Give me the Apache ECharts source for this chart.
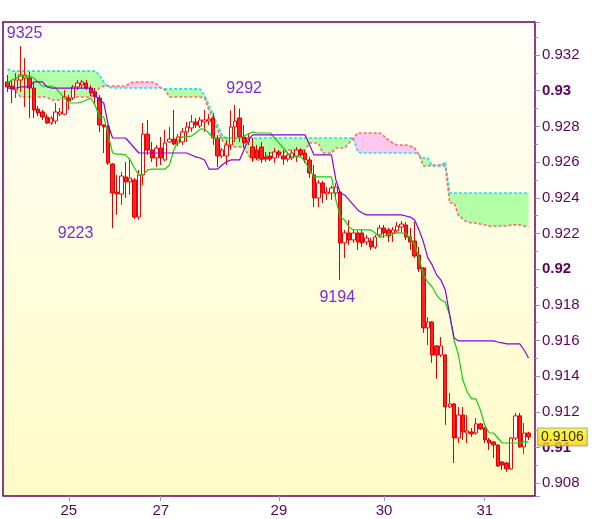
<!DOCTYPE html>
<html>
<head>
<meta charset="utf-8">
<script src="https://cdn.jsdelivr.net/npm/echarts@6/dist/echarts.min.js"></script>
<style>html,body{margin:0;padding:0;background:#fff;}#c{width:600px;height:519px;}</style>
</head>
<body>
<div id="c"></div>
<script>
// ---- data (hourly candles) ----
const opens = [0.93049,0.93026,0.93004,0.93060,0.93071,0.93071,0.93015,0.92897,0.92881,0.92853,
0.92819,0.92830,0.92869,0.92869,0.92959,0.92959,0.93021,0.93032,0.93043,0.93015,
0.92993,0.92959,0.92808,0.92797,0.92589,0.92432,0.92421,0.92517,0.92489,0.92500,
0.92292,0.92528,0.92757,0.92668,0.92623,0.92679,0.92612,0.92713,0.92729,0.92707,
0.92713,0.92769,0.92791,0.92825,0.92802,0.92825,0.92830,0.92847,0.92735,0.92634,
0.92634,0.92696,0.92797,0.92847,0.92741,0.92713,0.92685,0.92668,0.92685,0.92629,
0.92634,0.92623,0.92657,0.92634,0.92617,0.92623,0.92634,0.92668,0.92651,0.92612,
0.92528,0.92399,0.92483,0.92421,0.92427,0.92427,0.92432,0.92147,0.92203,0.92164,
0.92203,0.92203,0.92152,0.92158,0.92124,0.92192,0.92231,0.92220,0.92203,0.92214,
0.92236,0.92248,0.92180,0.92158,0.92080,0.92007,0.91671,0.91704,0.91570,0.91519,
0.91519,0.91228,0.91245,0.91054,0.91183,0.91082,0.91088,0.91082,0.91133,0.91110,
0.91043,0.91032,0.91015,0.90920,0.90914,0.90881,0.91054,0.91178,0.91004,0.91082];
const closes = [0.93021,0.93010,0.93060,0.93088,0.93088,0.93015,0.92892,0.92875,0.92853,0.92819,
0.92847,0.92881,0.92881,0.92965,0.92942,0.93021,0.93043,0.93049,0.93015,0.92987,
0.92965,0.92808,0.92797,0.92595,0.92427,0.92421,0.92522,0.92489,0.92511,0.92292,
0.92528,0.92757,0.92668,0.92623,0.92679,0.92623,0.92707,0.92729,0.92701,0.92741,
0.92769,0.92797,0.92825,0.92808,0.92836,0.92836,0.92841,0.92735,0.92634,0.92668,
0.92696,0.92797,0.92830,0.92741,0.92707,0.92735,0.92623,0.92623,0.92617,0.92617,
0.92617,0.92657,0.92640,0.92617,0.92640,0.92651,0.92668,0.92640,0.92612,0.92539,
0.92399,0.92483,0.92427,0.92432,0.92455,0.92461,0.92147,0.92203,0.92164,0.92203,
0.92152,0.92147,0.92175,0.92124,0.92180,0.92231,0.92203,0.92186,0.92220,0.92242,
0.92253,0.92180,0.92152,0.92074,0.92001,0.91671,0.91704,0.91519,0.91519,0.91570,
0.91228,0.91245,0.91054,0.91183,0.91088,0.91094,0.91077,0.91133,0.91105,0.91043,
0.91026,0.91015,0.90897,0.90903,0.90881,0.91054,0.91178,0.91004,0.91082,0.91060];
const lows = [0.92993,0.92931,0.92959,0.92993,0.92909,0.92847,0.92847,0.92858,0.92836,0.92813,
0.92808,0.92813,0.92858,0.92864,0.92892,0.92948,0.93004,0.93015,0.93004,0.92970,
0.92920,0.92769,0.92651,0.92584,0.92230,0.92304,0.92360,0.92399,0.92416,0.92281,
0.92276,0.92472,0.92640,0.92601,0.92573,0.92584,0.92605,0.92707,0.92696,0.92690,
0.92696,0.92713,0.92769,0.92791,0.92791,0.92769,0.92808,0.92696,0.92573,0.92623,
0.92584,0.92668,0.92713,0.92713,0.92679,0.92696,0.92601,0.92612,0.92595,0.92601,
0.92606,0.92595,0.92623,0.92584,0.92601,0.92612,0.92601,0.92629,0.92595,0.92511,
0.92348,0.92348,0.92371,0.92388,0.92388,0.92388,0.91940,0.92063,0.92136,0.92147,
0.92108,0.92124,0.92136,0.92108,0.92113,0.92175,0.92175,0.92152,0.92152,0.92203,
0.92208,0.92164,0.92108,0.92063,0.91984,0.91643,0.91575,0.91475,0.91385,0.91508,
0.91127,0.91223,0.90914,0.91026,0.91043,0.91026,0.91060,0.91071,0.91099,0.91026,
0.90987,0.90942,0.90892,0.90875,0.90864,0.90875,0.91043,0.91000,0.90965,0.91043];
const highs = [0.93088,0.93060,0.93099,0.93250,0.93183,0.93105,0.93043,0.92914,0.92892,0.92869,
0.92858,0.92931,0.92903,0.93004,0.92976,0.93032,0.93060,0.93060,0.93060,0.93032,
0.93015,0.92976,0.92813,0.92808,0.92595,0.92528,0.92545,0.92601,0.92623,0.92511,
0.92556,0.92819,0.92836,0.92713,0.92696,0.92741,0.92780,0.92797,0.92892,0.92757,
0.92791,0.92825,0.92864,0.92847,0.92853,0.92892,0.92869,0.92875,0.92752,0.92679,
0.92724,0.92890,0.92920,0.92900,0.92808,0.92763,0.92735,0.92696,0.92713,0.92657,
0.92657,0.92679,0.92668,0.92668,0.92657,0.92668,0.92685,0.92679,0.92668,0.92629,
0.92584,0.92500,0.92494,0.92461,0.92466,0.92483,0.92444,0.92220,0.92276,0.92220,
0.92214,0.92220,0.92192,0.92175,0.92192,0.92248,0.92248,0.92231,0.92236,0.92264,
0.92270,0.92264,0.92231,0.92264,0.92124,0.92012,0.91732,0.91710,0.91575,0.91620,
0.91525,0.91306,0.91250,0.91228,0.91228,0.91183,0.91110,0.91166,0.91138,0.91116,
0.91054,0.91037,0.91020,0.90925,0.90920,0.91060,0.91194,0.91194,0.91138,0.91088];

// Ichimoku-style lines
const tenkan = [0.93043,0.93060,0.93071,0.93082,0.93082,0.93082,0.93071,0.93049,0.93026,0.93026,
0.93026,0.93015,0.92987,0.92959,0.92931,0.92931,0.92931,0.92937,0.92948,0.92959,
0.92920,0.92853,0.92853,0.92752,0.92651,0.92645,0.92645,0.92640,0.92612,0.92567,
0.92528,0.92528,0.92556,0.92561,0.92561,0.92561,0.92561,0.92584,0.92668,0.92724,
0.92741,0.92741,0.92746,0.92763,0.92785,0.92785,0.92763,0.92735,0.92735,0.92735,
0.92735,0.92735,0.92735,0.92735,0.92746,0.92757,0.92769,0.92763,0.92763,0.92763,
0.92763,0.92735,0.92707,0.92679,0.92651,0.92629,0.92629,0.92629,0.92601,0.92556,
0.92517,0.92517,0.92517,0.92517,0.92517,0.92388,0.92292,0.92276,0.92236,0.92220,
0.92220,0.92220,0.92220,0.92220,0.92203,0.92180,0.92186,0.92192,0.92197,0.92203,
0.92203,0.92197,0.92175,0.92136,0.92063,0.91968,0.91928,0.91900,0.91855,0.91827,
0.91816,0.91743,0.91603,0.91519,0.91379,0.91312,0.91273,0.91273,0.91211,0.91127,
0.91082,0.91082,0.91054,0.91026,0.91026,0.91026,0.91026,0.91026,0.91032,0.91032];
const kijun = [0.93015,0.93015,0.93015,0.93021,0.93021,0.93021,0.93049,0.93049,0.93049,0.93021,
0.93015,0.93015,0.93015,0.93015,0.93015,0.93015,0.93015,0.93015,0.93015,0.93015,
0.92976,0.92948,0.92931,0.92808,0.92735,0.92735,0.92735,0.92735,0.92707,0.92679,
0.92651,0.92651,0.92651,0.92651,0.92651,0.92651,0.92651,0.92651,0.92651,0.92651,
0.92651,0.92651,0.92640,0.92629,0.92623,0.92612,0.92561,0.92561,0.92561,0.92584,
0.92601,0.92612,0.92612,0.92612,0.92668,0.92724,0.92752,0.92752,0.92752,0.92752,
0.92752,0.92752,0.92752,0.92752,0.92752,0.92752,0.92752,0.92752,0.92752,0.92696,
0.92640,0.92640,0.92640,0.92640,0.92640,0.92500,0.92427,0.92416,0.92388,0.92360,
0.92332,0.92315,0.92304,0.92304,0.92304,0.92304,0.92304,0.92304,0.92304,0.92304,
0.92304,0.92298,0.92292,0.92276,0.92220,0.92152,0.92063,0.92024,0.91968,0.91939,
0.91883,0.91743,0.91615,0.91598,0.91598,0.91598,0.91598,0.91598,0.91598,0.91598,
0.91598,0.91598,0.91592,0.91587,0.91581,0.91581,0.91581,0.91581,0.91547,0.91502];
const spanA = [0.93122,0.93110,0.93110,0.93110,0.93110,0.93110,0.93110,0.93110,0.93110,0.93110,
0.93110,0.93110,0.93110,0.93110,0.93110,0.93110,0.93110,0.93110,0.93110,0.93110,
0.93110,0.93088,0.93049,0.93021,0.93015,0.93015,0.93015,0.93015,0.93015,0.93015,
0.93015,0.93015,0.93015,0.93015,0.93015,0.93015,0.93010,0.93010,0.93010,0.93010,
0.93010,0.93010,0.93010,0.93010,0.93010,0.92976,0.92920,0.92864,0.92808,0.92752,
0.92735,0.92735,0.92735,0.92735,0.92735,0.92735,0.92735,0.92735,0.92735,0.92735,
0.92735,0.92735,0.92735,0.92735,0.92735,0.92735,0.92735,0.92735,0.92735,0.92735,
0.92735,0.92735,0.92735,0.92735,0.92735,0.92735,0.92735,0.92735,0.92735,0.92735,
0.92657,0.92651,0.92651,0.92651,0.92651,0.92651,0.92651,0.92651,0.92651,0.92651,
0.92651,0.92651,0.92651,0.92651,0.92640,0.92623,0.92623,0.92578,0.92578,0.92578,
0.92601,0.92427,0.92427,0.92427,0.92427,0.92427,0.92427,0.92427,0.92427,0.92427,
0.92427,0.92427,0.92427,0.92427,0.92427,0.92427,0.92427,0.92427,0.92427,0.92427];
const spanB = [0.93032,0.93015,0.92993,0.92965,0.92965,0.92965,0.92965,0.92965,0.92965,0.92965,
0.92948,0.92948,0.92948,0.92948,0.92965,0.92965,0.92965,0.92965,0.92965,0.92965,
0.92987,0.93015,0.93026,0.93026,0.93026,0.93026,0.93026,0.93026,0.93043,0.93049,
0.93049,0.93049,0.93049,0.93049,0.93038,0.93015,0.93004,0.92965,0.92965,0.92965,
0.92965,0.92965,0.92965,0.92965,0.92965,0.92959,0.92892,0.92847,0.92780,0.92724,
0.92696,0.92685,0.92685,0.92685,0.92685,0.92640,0.92612,0.92612,0.92612,0.92629,
0.92651,0.92651,0.92651,0.92651,0.92668,0.92668,0.92668,0.92668,0.92668,0.92707,
0.92707,0.92707,0.92651,0.92651,0.92651,0.92679,0.92679,0.92679,0.92707,0.92735,
0.92763,0.92763,0.92763,0.92763,0.92763,0.92763,0.92746,0.92724,0.92707,0.92696,
0.92696,0.92696,0.92690,0.92679,0.92640,0.92578,0.92578,0.92584,0.92584,0.92584,
0.92578,0.92371,0.92371,0.92304,0.92281,0.92264,0.92259,0.92259,0.92253,0.92248,
0.92242,0.92242,0.92242,0.92242,0.92242,0.92248,0.92248,0.92248,0.92242,0.92236];

// x-axis day labels and the candle index they sit on
const dayLabels = ['25', '27', '29', '30', '31'];
const dayIndex = [14, 35, 62, 86, 109];
// annotated extremes (candle index, which end)
const extremeIndex = [3, 24, 52, 76];
const extremeKind = ['high', 'low', 'high', 'low'];
// y range of the plot
const yMin = 0.90729, yMax = 0.93385;

// ---- build ----
const cats = opens.map((_, i) => String(i));
const candles = opens.map((o, i) => [o, closes[i], lows[i], highs[i]]);
const cloudLow = spanA.map((a, i) => Math.min(a, spanB[i]));
const cloudGreen = spanA.map((a, i) => a > spanB[i] ? a - spanB[i] : 0);
const cloudPink = spanA.map((a, i) => spanB[i] > a ? spanB[i] - a : 0);
const lastIdx = closes.length - 1;
const lastClose = closes[lastIdx];

const extremeOffsets = [[4, -12], [-37, 5], [9, -16], [-3, 18]];
const markData = extremeIndex.map((idx, k) => {
  const v = extremeKind[k] === 'high' ? highs[idx] : lows[idx];
  return {
    coord: [idx, v],
    value: v,
    label: { offset: extremeOffsets[k] }
  };
});

const FONT = 'Liberation Sans, Arial, sans-serif';
const tickColor = '#8c9cb0';
const labelColor = '#5e005e';

function fmtY(v) {
  return parseFloat(v.toFixed(3)).toString();
}

const chart = echarts.init(document.getElementById('c'), null, { renderer: 'canvas' });
chart.setOption({
  animation: false,
  backgroundColor: '#ffffff',
  textStyle: { fontFamily: FONT },
  grid: [
    { left: 5.3, right: 69.3, top: 22, bottom: 23, show: false, outerBoundsMode: 'none', containLabel: false },
    {
      left: 3, right: 65, top: 22, bottom: 23, show: true, outerBoundsMode: 'none', containLabel: false,
      borderColor: '#660066', borderWidth: 1.5,
      backgroundColor: new echarts.graphic.LinearGradient(0, 0, 0, 1, [
        { offset: 0, color: '#fffff8' },
        { offset: 1, color: '#fffbc6' }
      ])
    }
  ],
  xAxis: [
    {
      type: 'category', gridIndex: 0, data: cats, boundaryGap: true,
      axisLine: { show: false },
      axisTick: {
        show: true, alignWithLabel: true, length: 5,
        interval: (i) => dayIndex.indexOf(i) >= 0,
        lineStyle: { color: tickColor }
      },
      axisLabel: {
        interval: 0, margin: 7, color: labelColor, fontSize: 15, fontFamily: FONT,
        formatter: (val, i) => { const k = dayIndex.indexOf(i); return k >= 0 ? dayLabels[k] : ''; }
      },
      splitLine: { show: false }
    },
    { type: 'category', gridIndex: 1, data: [], show: false }
  ],
  yAxis: [
    {
      type: 'value', gridIndex: 0, position: 'right', offset: 4.3,
      min: yMin, max: yMax, splitNumber: 13, scale: true,
      axisLine: { show: false },
      axisTick: { show: true, length: 5, lineStyle: { color: tickColor } },
      minorTick: { show: true, splitNumber: 2, length: 3, lineStyle: { color: tickColor } },
      splitLine: { show: false },
      minorSplitLine: { show: false },
      axisLabel: {
        margin: 7, color: labelColor, fontSize: 15, fontFamily: FONT,
        showMinLabel: false, showMaxLabel: false,
        formatter: (v) => {
          const s = fmtY(v);
          const isMajor = Math.abs(v * 100 - Math.round(v * 100)) < 1e-6;
          return isMajor ? '{b|' + s + '}' : s;
        },
        rich: { b: { fontWeight: 'bold', fontSize: 15, color: labelColor, fontFamily: FONT } }
      }
    },
    { type: 'value', gridIndex: 1, show: false, min: 0, max: 1 }
  ],
  series: [
    {
      name: 'cloudBase', type: 'line', xAxisIndex: 0, yAxisIndex: 0, stack: 'cloud',
      data: cloudLow, symbol: 'none', silent: true, z: 1,
      lineStyle: { opacity: 0 }
    },
    {
      name: 'cloudGreen', type: 'line', xAxisIndex: 0, yAxisIndex: 0, stack: 'cloud',
      data: cloudGreen, symbol: 'none', silent: true, z: 1,
      lineStyle: { opacity: 0 }, areaStyle: { color: '#b2ffa8', opacity: 1 }
    },
    {
      name: 'cloudPink', type: 'line', xAxisIndex: 0, yAxisIndex: 0, stack: 'cloud',
      data: cloudPink, symbol: 'none', silent: true, z: 1,
      lineStyle: { opacity: 0 }, areaStyle: { color: '#ffc8ee', opacity: 1 }
    },
    {
      name: 'spanA', type: 'line', xAxisIndex: 0, yAxisIndex: 0, data: spanA, symbol: 'none', z: 2,
      lineStyle: { color: '#22dcf0', width: 1.6, type: [3, 2] }
    },
    {
      name: 'spanB', type: 'line', xAxisIndex: 0, yAxisIndex: 0, data: spanB, symbol: 'none', z: 2,
      lineStyle: { color: '#ff6868', width: 1.6, type: [3, 2] }
    },
    {
      name: 'price', type: 'candlestick', xAxisIndex: 0, yAxisIndex: 0, data: candles, z: 3,
      barWidth: '88%',
      itemStyle: {
        color: '#ffffff', color0: '#ff2020',
        borderColor: '#ff0000', borderColor0: '#dd0000', borderWidth: 1
      },
      markPoint: {
        symbol: 'circle', symbolSize: 0, silent: true,
        label: {
          show: true, position: 'inside', color: '#7d2bd0', fontSize: 16, fontFamily: FONT,
          formatter: (p) => String(Math.round(p.value * 10000))
        },
        data: markData
      }
    },
    {
      name: 'tenkan', type: 'line', xAxisIndex: 0, yAxisIndex: 0, data: tenkan, symbol: 'none', z: 4,
      lineStyle: { color: '#10d010', width: 1.2 }
    },
    {
      name: 'kijun', type: 'line', xAxisIndex: 0, yAxisIndex: 0, data: kijun, symbol: 'none', z: 4,
      lineStyle: { color: '#8c00d4', width: 1.2 }
    },
    {
      name: 'lastPrice', type: 'scatter', xAxisIndex: 0, yAxisIndex: 0, clip: false, z: 10,
      symbol: 'circle', symbolSize: 0, silent: true,
      data: [[lastIdx, lastClose]],
      label: {
        show: true, position: 'right', distance: 9.5,
        formatter: (p) => p.value[1].toFixed(4),
        color: '#000000', fontSize: 14, fontFamily: FONT,
        backgroundColor: new echarts.graphic.LinearGradient(0, 0, 0, 1, [
          { offset: 0, color: '#ffff10' },
          { offset: 1, color: '#ffcc00' }
        ]),
        borderColor: '#8aa0b4', borderWidth: 1, padding: [2, 3, 1, 3]
      }
    }
  ]
});
</script>
</body>
</html>
